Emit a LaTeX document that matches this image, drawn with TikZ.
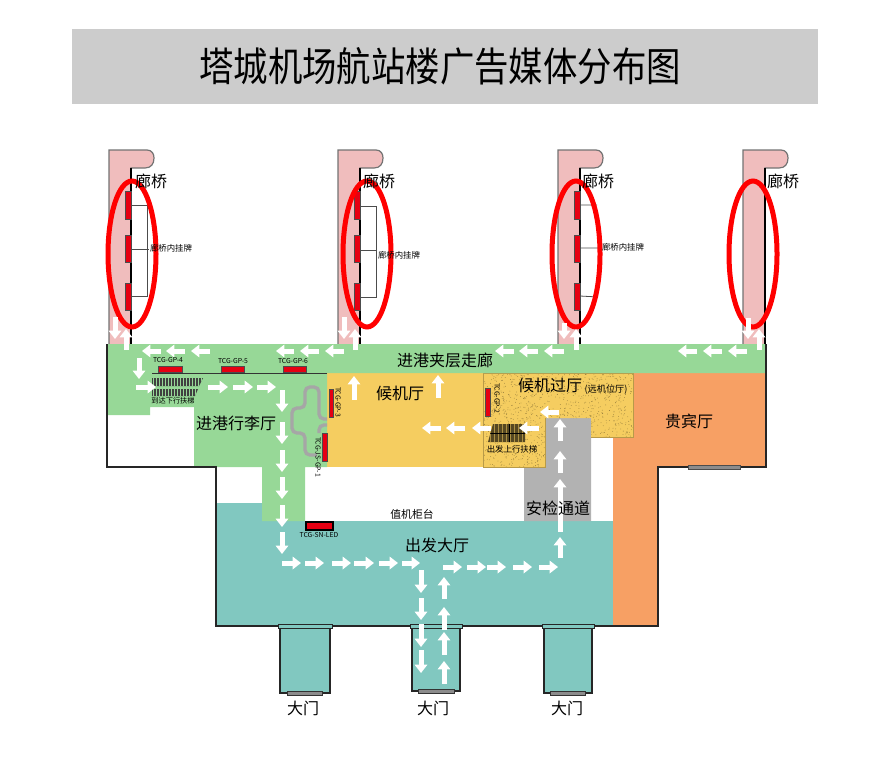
\documentclass[tikz,border=0pt]{standalone}
\usepackage{fontspec}
\usepackage{graphicx}
\setmainfont{Noto Sans CJK SC}
\usetikzlibrary{arrows.meta}
\definecolor{pinkbridge}{HTML}{F0BDBD}
\definecolor{greenhall}{HTML}{97D897}
\definecolor{tealhall}{HTML}{81C8C0}
\definecolor{orangehall}{HTML}{F7A064}
\definecolor{yellowhall}{HTML}{F5CD60}
\definecolor{grayhall}{HTML}{B2B2B2}
\definecolor{mediared}{HTML}{E60012}
\begin{document}
\begin{tikzpicture}[x=.5pt,y=-.5pt,line cap=butt]
        % Styles
        \tikzstyle{big text}=[font=\fontsize{8}{8}\selectfont,inner sep=0pt]
        \tikzstyle{mid text}=[font=\fontsize{5.4}{6}\selectfont,inner sep=0pt]
        \tikzstyle{small text}=[font=\fontsize{4.2}{5}\selectfont,inner sep=0pt]
        \tikzstyle{tiny text}=[font=\fontsize{3.4}{4}\selectfont,inner sep=0pt]
        \tikzstyle{media}=[fill=mediared,draw=black!70,line width=.4pt]
        \tikzstyle{flow}=[white,line width=2.5pt,-{Triangle[length=4.2pt,width=6.2pt]}]
        \tikzstyle{outline}=[draw=black!85,line width=.8pt]
        \tikzstyle{ring}=[draw=red,line width=2.5pt]
        \tikzstyle{hanger}=[draw=black!70,line width=.4pt]
        \useasboundingbox (0,0) rectangle (892,765);
        %title
        \fill[black!20] (72,29) rectangle (818,104);
        \node[font=\fontsize{20}{20}\selectfont,inner sep=0pt] (title) at (440,66) {\scalebox{.86}[1]{塔城机场航站楼广告媒体分布图}};
        %bridges
        \foreach \bx in {109,338,558,743}
            \draw[fill=pinkbridge,draw=black!55,line width=.6pt] (\bx,344) -- (\bx,150) -- (\bx+38,150)
                .. controls (\bx+43,150) and (\bx+45,154) .. (\bx+45,158)
                .. controls (\bx+45,164) and (\bx+42,168) .. (\bx+36,168) -- (\bx+22,168) -- (\bx+22,344);
        \foreach \bx in {131,360,580,765}
            \draw[black,line width=.6pt] (\bx,168) -- (\bx,344);
        %halls
        \fill[tealhall] (216,503) -- (262,503) -- (262,521) -- (613,521) -- (613,626) -- (216,626) -- cycle;
        \fill[orangehall] (633,373) -- (766,373) -- (766,467) -- (658,467) -- (658,626) -- (613,626) -- (613,438) -- (633,438) -- cycle;
        \fill[grayhall] (546,418) -- (591,418) -- (591,521) -- (524,521) -- (524,467) -- (546,467) -- cycle;
        \fill[yellowhall] (327,373) rectangle (483,467);
        \begin{scope}
            \clip (483,373) -- (633,373) -- (633,437) -- (591,437) -- (591,418) -- (545,418) -- (545,467) -- (483,467) -- cycle;
            \fill[yellowhall] (483,373) rectangle (633,467);
            \pgfmathsetseed{7}
            \foreach \i in {1,...,1300}
                \fill[yellowhall!60!black] ({483+rnd*150},{373+rnd*94}) circle (.4);
        \end{scope}
        \draw[yellowhall!75!black,line width=.5pt] (483,373) -- (633,373) -- (633,437) -- (591,437) (545,418) -- (545,467) -- (483,467) -- (483,373);
        \fill[greenhall] (107,344) -- (766,344) -- (766,373) -- (327,373) -- (327,467) -- (305,467) -- (305,521) -- (262,521) -- (262,467) -- (194,467) -- (194,407) -- (150,407) -- (150,415) -- (107,415) -- cycle;
        %walls
        \draw[outline] (107,344) -- (107,467) -- (216,467) -- (216,626) -- (658,626) -- (658,467) -- (766,467) -- (766,344);
        \draw[black!80,line width=.5pt] (152,373) -- (327,373);
        \draw[draw=black!70,fill=black!45,line width=.4pt] (688,465) rectangle (740,469);
        %doors
        \foreach \dl/\dr/\db/\sl/\sr in {280/330/693/287/322, 412/460/691/418/454, 544/592/693/550/585} {
            \draw[fill=tealhall,draw=black!85,line width=.6pt] (\dl,625) rectangle (\dr,\db);
            \draw[fill=tealhall,draw=black!85,line width=.5pt] (\dl-2,624) rectangle (\dr+2,628);
            \draw[fill=black!45,draw=black!80,line width=.4pt] (\sl,\db-2) rectangle (\sr,\db+2);
        }
        %winding queue
        \draw[black!35,line width=1.7pt,rounded corners=2.5pt] (327,419) -- (319,419) -- (319,387) -- (305,387) -- (305,408) -- (292,408) -- (292,433) -- (305,433) -- (305,455) -- (317,455);
        \draw[black!35,line width=1.7pt,rounded corners=2.5pt] (327,425) -- (319,425) -- (319,433);
        %escalators
        \begin{scope}
            \clip (152,378) -- (203,378) -- (199,386) -- (152,386) -- cycle (152,389) -- (198,389) -- (195,396) -- (152,396) -- cycle;
            \fill[black!75] (150,376) rectangle (205,398);
            \foreach \x in {153,156,...,203}
                \draw[greenhall,line width=.35pt] (\x,376) -- (\x,398);
        \end{scope}
        \begin{scope}
            \clip (493,424) -- (525,424) -- (525,442) -- (488,442) -- cycle;
            \fill[yellowhall!35!black] (486,422) rectangle (527,444);
            \foreach \x in {490,494,...,526}
                \draw[yellowhall!70!black,line width=.3pt] (\x,422) -- (\x,444);
            \draw[black,line width=.5pt] (486,433) -- (527,433) (509,422) -- (509,444);
        \end{scope}
        %media
        \foreach \x/\ya/\yb in {125/191/219, 125/235/262, 125/283/310, 354/191/219, 354/235/262, 354/283/310, 574/191/219, 574/235/262, 574/283/310}
            \draw[media] (\x,\ya) rectangle (\x+6,\yb);
        \foreach \xa/\xb in {158/182, 221/244, 283/306}
            \draw[media] (\xa,366) rectangle (\xb,372);
        \draw[media] (329,389) rectangle (333,417);
        \draw[media] (322,433) rectangle (327,461);
        \draw[media] (485,388) rectangle (490,416);
        \draw[fill=mediared,draw=black,line width=.7pt] (306,522) rectangle (333,530);
        %hanging signs
        \draw[hanger] (131,205) -- (147,205) -- (147,296) -- (131,296) (131,249) -- (149,249);
        \draw[hanger] (360,206) -- (376,206) -- (376,297) -- (360,297) (360,250) -- (376,250);
        \draw[hanger] (580,205) -- (597,205) (580,248) -- (600,248) (580,296) -- (598,297);
        %rings
        \foreach \x in {132,367,576,753}
            \draw[ring] (\x,254) ellipse (24 and 73);
        %flow
        \foreach \xa/\xb in {161/142, 185/166, 210/191, 294/276, 319/300, 344/325, 514/495, 538/519, 564/544, 697/678, 722/703, 747/728}
            \draw[flow] (\xa,351) -- (\xb,351);
        \foreach \xa/\ya/\yb in {115/317/339, 344/317/339, 564/323/339, 748/318/339, 139/358/379, 282/390/412, 282/422/444, 282/450/472, 282/477/499, 282/505/527, 282/532/554, 421/570/593, 421/598/620, 421/624/647, 421/650/673}
            \draw[flow] (\xa,\ya) -- (\xa,\yb);
        \foreach \xa/\ya/\yb in {126/350/329, 355/350/329, 576/350/329, 759/350/329, 354/400/376, 438/398/375, 444/684/661, 444/655/632, 444/630/607, 444/599/577, 560/558/537, 560/532/479, 560/473/451, 560/441/419}
            \draw[flow] (\xa,\ya) -- (\xa,\yb);
        \foreach \xa/\xb/\y in {136/156/387, 208/228/387, 233/253/387, 257/276/387, 282/301/563, 305/324/563, 332/351/563, 354/374/563, 379/398/563, 402/420/563, 443/462/567, 467/486/567, 487/506/567, 513/532/567, 539/558/567}
            \draw[flow] (\xa,\y) -- (\xb,\y);
        \foreach \xa/\xb/\y in {559/540/412, 539/519/428, 491/472/428, 465/446/428, 441/422/428}
            \draw[flow] (\xa,\y) -- (\xb,\y);
        %labels
        \foreach \x/\n in {151/a,379/b,598/c,783/d}
            \node[big text] (bridge \n) at (\x,181) {廊桥};
        \node[big text] (corridor) at (445,360) {进港夹层走廊};
        \node[big text] (waiting) at (400,393) {候机厅};
        \node[big text] (transit) at (550,385) {候机过厅};
        \node[small text,font=\fontsize{4.6}{5}\selectfont] (remote) at (606,389) {(远机位厅)};
        \node[big text] (vip) at (689,421) {贵宾厅};
        \node[big text] (baggage) at (236,423) {进港行李厅};
        \node[big text] (security) at (558,508) {安检通道};
        \node[big text] (departure) at (437,545) {出发大厅};
        \node[mid text] (checkin) at (412,514) {值机柜台};
        \node[small text] (sign a) at (171,248) {廊桥内挂牌};
        \node[small text] (sign b) at (399,255) {廊桥内挂牌};
        \node[small text] (sign c) at (623,247) {廊桥内挂牌};
        \node[small text,font=\fontsize{3.6}{4}\selectfont] (escalator down) at (173,401) {到达下行扶梯};
        \node[small text] (escalator up) at (512,449) {出发上行扶梯};
        \node[tiny text] (gp four) at (168,360) {TCG-GP-4};
        \node[tiny text] (gp five) at (233,361) {TCG-GP-5};
        \node[tiny text] (gp six) at (293,361) {TCG-GP-6};
        \node[tiny text,rotate=-90] (gp three) at (338,402) {TCG-GP-3};
        \node[tiny text,rotate=-90] (gp two) at (497,398) {TCG-GP-2};
        \node[tiny text,rotate=-90] (gp one) at (318,457) {TCG-JS-GP-1};
        \node[tiny text] (led) at (319,535) {TCG-SN-LED};
        \foreach \x/\n in {303/a,433/b,567/c}
            \node[big text] (door \n) at (\x,708) {大门};
    \end{tikzpicture}
\end{document}
